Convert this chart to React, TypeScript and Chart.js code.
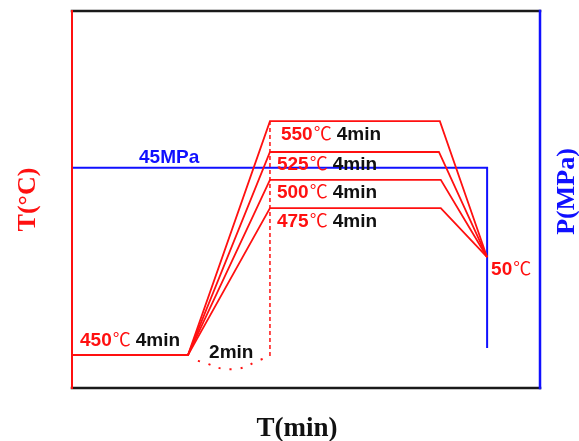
import React, { useEffect, useRef } from 'react';
import { Chart, registerables } from 'chart.js';

Chart.register(...registerables);

// Schematic figure without ticks: both axes are expressed in percent of the frame.
const holdTemp = 8.8;            // 450℃ holding level
const coolTemp = 34.7;           // 50℃ end level
const holdEnd = 24.8;            // end of the 450℃ hold
const rampEnd = 42.3;            // end of the 2 min heating ramp
const plateauEnds = [78.6, 78.4, 78.8, 78.8];
const coolEnd = 88.7;
const plateauTemps = [70.8, 62.6, 55.2, 47.7];
const plateauLabels = ['550', '525', '500', '475'];
const holdLabel = '450';
const endLabel = '50';
const dashBottom = 8.0;
const pressureLevel = 58.4;
const pressureEnd = 10.6;
const pressureLabel = '45MPa';
const durationLabel = '4min';
const rampLabel = '2min';
const arcX = [26.9, 34.2, 40.8];
const arcY = [7.2, 5.0, 7.7];
const yTitleLeft = 'T(°C)';
const yTitleRight = 'P(MPa)';
const xTitle = 'T(min)';

const RED = '#ff1010';
const BLUE = '#1010ff';
const SANS = "'Liberation Sans', Arial, sans-serif";
const CJK = "'Noto Sans CJK SC', sans-serif";
const SERIF = "'Liberation Serif', 'Times New Roman', serif";

type Part = { text: string; color: string; font: string; gapAfter?: number };

function drawParts(ctx: CanvasRenderingContext2D, x: number, baseline: number, parts: Part[]) {
  let cx = x;
  for (const p of parts) {
    ctx.font = p.font;
    ctx.fillStyle = p.color;
    ctx.fillText(p.text, cx, baseline);
    cx += ctx.measureText(p.text).width + (p.gapAfter ?? 0);
  }
}

function tempParts(num: string, withTime: boolean): Part[] {
  const parts: Part[] = [
    { text: num, color: RED, font: `bold 19px ${SANS}`, gapAfter: 1 },
    { text: '℃', color: RED, font: `18px ${CJK}`, gapAfter: 5 },
  ];
  if (withTime) parts.push({ text: durationLabel, color: '#111', font: `bold 19px ${SANS}` });
  return parts;
}

const decorPlugin = {
  id: 'decor',
  afterDatasetsDraw(chart: any) {
    const { ctx, chartArea: a, scales } = chart;
    const xs = scales.x;
    const ys = scales.y;
    ctx.save();
    ctx.textBaseline = 'alphabetic';
    ctx.textAlign = 'left';

    // frame
    ctx.lineCap = 'square';
    ctx.strokeStyle = '#1a1a1a';
    ctx.lineWidth = 2.5;
    ctx.beginPath();
    ctx.moveTo(a.left, a.top);
    ctx.lineTo(a.right, a.top);
    ctx.moveTo(a.left, a.bottom);
    ctx.lineTo(a.right, a.bottom);
    ctx.stroke();
    ctx.strokeStyle = RED;
    ctx.lineWidth = 2;
    ctx.beginPath();
    ctx.moveTo(a.left, a.top);
    ctx.lineTo(a.left, a.bottom);
    ctx.stroke();
    ctx.strokeStyle = BLUE;
    ctx.lineWidth = 2.5;
    ctx.beginPath();
    ctx.moveTo(a.right, a.top);
    ctx.lineTo(a.right, a.bottom);
    ctx.stroke();

    // plateau labels
    const nudge = [4, 0, 0, 0];
    plateauTemps.forEach((t, i) => {
      const px = xs.getPixelForValue(rampEnd) + 7 + nudge[i];
      const py = ys.getPixelForValue(t) + 18.5;
      drawParts(ctx, px, py, tempParts(plateauLabels[i], true));
    });
    // hold label
    drawParts(ctx, a.left + 8, ys.getPixelForValue(holdTemp) - 8.5, tempParts(holdLabel, true));
    // end label
    drawParts(ctx, xs.getPixelForValue(coolEnd) + 4, ys.getPixelForValue(coolTemp) + 18, tempParts(endLabel, false));
    // ramp time label
    drawParts(ctx, xs.getPixelForValue(holdEnd) + 21, ys.getPixelForValue(holdTemp) + 3.5, [
      { text: rampLabel, color: '#111', font: `bold 19px ${SANS}` },
    ]);
    // pressure label
    drawParts(ctx, a.left + 67, ys.getPixelForValue(pressureLevel) - 5, [
      { text: pressureLabel, color: BLUE, font: `bold 19px ${SANS}` },
    ]);

    // axis titles
    ctx.textAlign = 'center';
    ctx.textBaseline = 'middle';
    ctx.font = `bold 26px ${SERIF}`;
    ctx.fillStyle = RED;
    ctx.save();
    ctx.translate(28, (a.top + a.bottom) / 2);
    ctx.rotate(-Math.PI / 2);
    ctx.fillText(yTitleLeft, 0, 0);
    ctx.restore();
    ctx.fillStyle = BLUE;
    ctx.save();
    ctx.translate(567, (a.top + a.bottom) / 2 - 8);
    ctx.rotate(-Math.PI / 2);
    ctx.fillText(yTitleRight, 0, 0);
    ctx.restore();
    ctx.fillStyle = '#111';
    ctx.font = `bold 27px ${SERIF}`;
    ctx.textBaseline = 'alphabetic';
    ctx.fillText(xTitle, 297, 436);
    ctx.restore();
  },
};

export default function App() {
  const ref = useRef<HTMLCanvasElement>(null);
  useEffect(() => {
    const profiles = plateauTemps.map((t, i) => ({
      label: plateauLabels[i] + '℃',
      data: [
        { x: 0, y: holdTemp },
        { x: holdEnd, y: holdTemp },
        { x: rampEnd, y: t },
        { x: plateauEnds[i], y: t },
        { x: coolEnd, y: coolTemp },
      ],
      borderColor: RED,
      borderWidth: 1.8,
      pointRadius: 0,
      tension: 0,
      fill: false,
    }));
    const chart = new Chart(ref.current!, {
      type: 'line',
      data: {
        datasets: [
          ...profiles,
          {
            label: 'ramp marker',
            data: [
              { x: rampEnd, y: plateauTemps[0] },
              { x: rampEnd, y: dashBottom },
            ],
            borderColor: RED,
            borderWidth: 1.5,
            borderDash: [4, 3],
            pointRadius: 0,
            fill: false,
          },
          {
            label: 'ramp time',
            data: arcX.map((x, i) => ({ x, y: arcY[i] })),
            borderColor: RED,
            borderWidth: 2,
            borderDash: [2, 9],
            tension: 0.5,
            pointRadius: 0,
            fill: false,
          },
          {
            label: 'pressure',
            data: [
              { x: 0, y: pressureLevel },
              { x: coolEnd, y: pressureLevel },
              { x: coolEnd, y: pressureEnd },
            ],
            borderColor: BLUE,
            borderWidth: 2,
            pointRadius: 0,
            tension: 0,
            fill: false,
          },
        ],
      } as any,
      options: {
        responsive: false,
        animation: false,
        layout: { padding: { left: 72, right: 39, top: 11, bottom: 53 } },
        scales: {
          x: { type: 'linear', min: 0, max: 100, display: false },
          y: { type: 'linear', min: 0, max: 100, display: false },
        },
        plugins: { legend: { display: false }, tooltip: { enabled: false } },
      },
      plugins: [decorPlugin],
    });
    return () => chart.destroy();
  }, []);
  return (
    <div style={{ position: 'absolute', left: 0, top: 0, width: 579, height: 441, background: '#fff' }}>
      <canvas ref={ref} width={579} height={441} style={{ display: 'block' }} />
    </div>
  );
}
